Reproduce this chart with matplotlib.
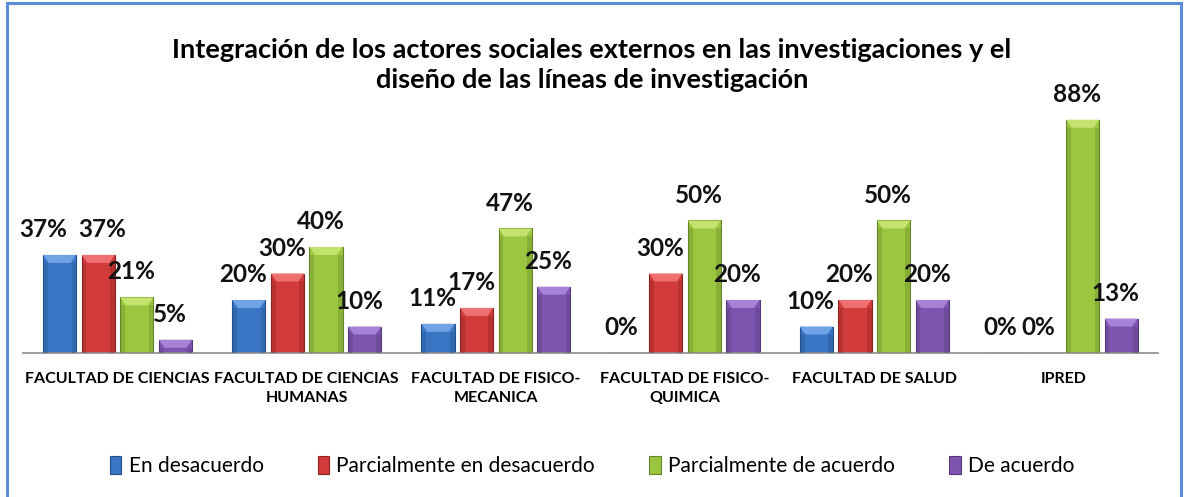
import matplotlib.pyplot as plt
from matplotlib.patches import Polygon, Rectangle
import numpy as np

categories = ["FACULTAD DE CIENCIAS", "FACULTAD DE CIENCIAS\nHUMANAS", "FACULTAD DE FISICO-\nMECANICA",
              "FACULTAD DE FISICO-\nQUIMICA", "FACULTAD DE SALUD", "IPRED"]
series = ["En desacuerdo", "Parcialmente en desacuerdo", "Parcialmente de acuerdo", "De acuerdo"]
en_desacuerdo = [37, 20, 11, 0, 10, 0]
parc_desacuerdo = [37, 30, 17, 30, 20, 0]
parc_acuerdo = [21, 40, 47, 50, 50, 88]
de_acuerdo = [5, 10, 25, 20, 20, 13]

colors = ["#3A76C4", "#D13B3B", "#9BC63F", "#7D55AE"]
tops = ["#6FA3E6", "#EE7070", "#C3E36E", "#A783D6"]
edges = ["#234F8A", "#8E2222", "#66862A", "#54397A"]

plt.rcParams['font.family'] = ['Lato', 'DejaVu Sans']

fig = plt.figure(figsize=(11.84, 4.97), dpi=100)
W, H = 1184, 497

# chart frame
fig.patches.append(Rectangle((7 / W, -0.01), 1174 / W, 1 - 3 / H + 0.01, transform=fig.transFigure,
                             fill=False, edgecolor="#5B8DD6", linewidth=2.2))

ax = fig.add_axes([23 / W, 1 - 353 / H, (1158 - 23) / W, (353 - 88) / H])
ax.set_xlim(-0.5, len(categories) - 0.5)
ax.set_ylim(0, 100)

x = np.arange(len(categories))
width = 0.175
step = 0.204
data = [en_desacuerdo, parc_desacuerdo, parc_acuerdo, de_acuerdo]

for i, vals in enumerate(data):
    xs = x + (i - 1.5) * step
    ax.bar(xs, vals, width=width, color=colors[i], edgecolor=edges[i], linewidth=0.8,
           label=series[i], zorder=2)
    for j, (xc, v) in enumerate(zip(xs, vals)):
        if v > 0:
            d = min(3.0, v * 0.6)
            ax.add_patch(Polygon([(xc - width / 2, v), (xc + width / 2, v), (xc + width / 2 - 0.03, v - d),
                                  (xc - width / 2 + 0.03, v - d)], closed=True,
                                 facecolor=tops[i], edgecolor="none", zorder=3))
            ax.add_patch(Rectangle((xc - width / 2, 0), 0.025, v - d, facecolor=edges[i], alpha=0.35,
                                   edgecolor="none", zorder=3))
            ax.add_patch(Rectangle((xc + width / 2 - 0.025, 0), 0.025, v - d, facecolor=edges[i], alpha=0.35,
                                   edgecolor="none", zorder=3))
        # nudge labels apart when neighbouring bars have the same height
        dx = -4
        if v > 0 and i < 3 and data[i + 1][j] == v:
            dx = -12
        elif v > 0 and i > 0 and data[i - 1][j] == v:
            dx = 3
        ax.annotate(f"{v}%", (xc, v), xytext=(dx, 10), textcoords="offset points", ha="center", va="bottom",
                    fontsize=17.5, fontweight="bold", color="#111111", zorder=4)

for s in ["top", "right", "left"]:
    ax.spines[s].set_visible(False)
ax.spines["bottom"].set_color("#8C8C8C")
ax.spines["bottom"].set_linewidth(1.2)
ax.set_yticks([])
ax.set_xticks(x)
ax.set_xticklabels(categories, fontsize=11.5, fontweight="bold", linespacing=1.4)
ax.tick_params(axis="x", length=0, pad=14)

fig.text(0.5, 1 - 65 / H, "Integración de los actores sociales externos en las investigaciones y el\n"
         "diseño de las líneas de investigación", ha="center", va="center", fontsize=19.5,
         fontweight="bold", linespacing=1.35)

fig.legend(loc="center", bbox_to_anchor=(0.5, 1 - 466 / H), ncol=4, frameon=False, fontsize=15,
           handlelength=0.55, handleheight=1.0, handletextpad=0.35, columnspacing=2.6)

fig.savefig("out.png", dpi=100)
